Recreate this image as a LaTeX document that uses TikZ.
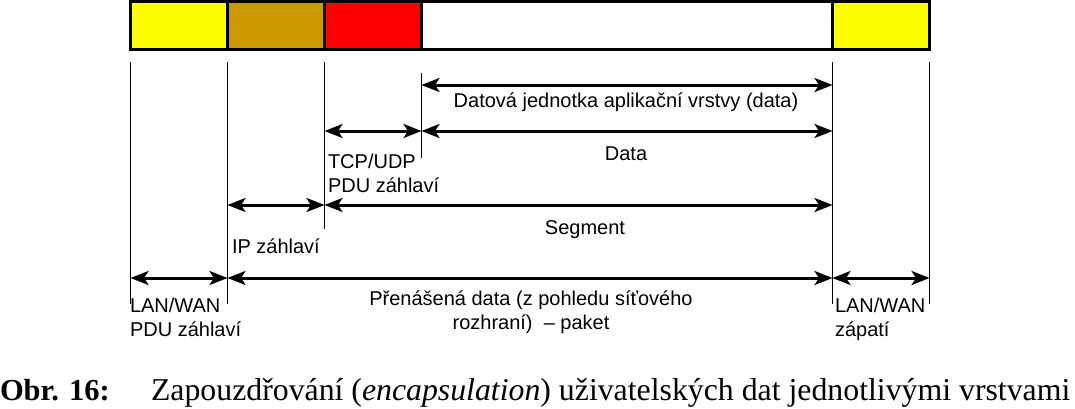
\documentclass[tikz,border=0pt]{standalone}
\usepackage{fontspec}
\setmainfont{Liberation Serif}
\newfontfamily\labfont{Liberation Sans}
\usetikzlibrary{arrows.meta}
\definecolor{cyel}{HTML}{FFFF00}
\definecolor{cbrn}{HTML}{CC9900}
\definecolor{cred}{HTML}{FF0000}
\begin{document}
\begin{tikzpicture}[x=1pt,y=-1pt,
  cell/.style={draw,line width=3pt,minimum height=48pt,inner sep=0pt,anchor=north west,outer sep=0pt},
  tickline/.style={line width=1pt},
  dimtip/.tip={Stealth[length=18pt,width=14pt,inset=4.5pt]},
  dimline/.style={line width=3pt,dimtip-dimtip},
  lbl/.style={font=\labfont\fontsize{20}{24}\selectfont,inner sep=0pt,outer sep=0pt},
  captext/.style={font=\fontsize{31.8}{34}\selectfont,inner sep=0pt,outer sep=0pt,anchor=base west}
]
\useasboundingbox (0,0) rectangle (1075,408);
% bar
\node[cell,fill=cyel,minimum width=97pt] (c1) at (130.5,1.5) {};
\node[cell,fill=cbrn,minimum width=97pt] (c2) at (227.5,1.5) {};
\node[cell,fill=cred,minimum width=97pt] (c3) at (324.5,1.5) {};
\node[cell,fill=white,minimum width=411pt] (c4) at (421.5,1.5) {};
\node[cell,fill=cyel,minimum width=97pt] (c5) at (832.5,1.5) {};
% tick ends
\coordinate (t1a) at (130.5,62); \coordinate (t1b) at (130.5,304);
\coordinate (t2a) at (227.5,62); \coordinate (t2b) at (227.5,304);
\coordinate (t3a) at (324.5,62); \coordinate (t3b) at (324.5,229);
\coordinate (t4a) at (421.5,73); \coordinate (t4b) at (421.5,158);
\coordinate (t5a) at (832.5,62); \coordinate (t5b) at (832.5,304);
\coordinate (t6a) at (929.5,62); \coordinate (t6b) at (929.5,304);
\foreach \i in {1,...,6} \draw[tickline] (t\i a) -- (t\i b);
% arrow end points
\coordinate (a1l) at (421.5,85);  \coordinate (a1r) at (832.5,85);
\coordinate (b1) at (324.5,131); \coordinate (b2) at (421.5,131); \coordinate (b3) at (832.5,131);
\coordinate (s1) at (227.5,205); \coordinate (s2) at (324.5,205); \coordinate (s3) at (832.5,205);
\coordinate (p1) at (130.5,278); \coordinate (p2) at (227.5,278); \coordinate (p3) at (832.5,278); \coordinate (p4) at (929.5,278);
\draw[dimline] (a1l) -- (a1r);
\draw[dimline] (b1) -- (b2);
\draw[dimline] (b2) -- (b3);
\draw[dimline] (s1) -- (s2);
\draw[dimline] (s2) -- (s3);
\draw[dimline] (p1) -- (p2);
\draw[dimline] (p2) -- (p3);
\draw[dimline] (p3) -- (p4);
% labels
\node[lbl,anchor=base] (l1) at (626,107) {Datová jednotka aplikační vrstvy (data)};
\node[lbl,anchor=base] (l2) at (626,160) {Data};
\node[lbl,anchor=base west,align=left] (l3) at (328,192) {TCP/UDP\\PDU záhlaví};
\node[lbl,anchor=base] (l4) at (585,234) {Segment};
\node[lbl,anchor=base west] (l5) at (232,253) {IP záhlaví};
\node[lbl,anchor=base west,align=left] (l6) at (130,336) {LAN/WAN\\PDU záhlaví};
\node[lbl,anchor=base,align=center] (l7) at (531,329) {Přenášená data (z pohledu síťového\\rozhraní)\ \ – paket};
\node[lbl,anchor=base west,align=left] (l8) at (835,336) {LAN/WAN\\zápatí};
% caption
\node[captext,font=\bfseries\fontsize{30.5}{34}\selectfont] (o) at (0,400) {Obr. 16:};
\node[captext] (c) at (151,400) {Zapouzdřování (\textit{encapsulation}) uživatelských dat jednotlivými vrstvami};
\end{tikzpicture}
\end{document}
